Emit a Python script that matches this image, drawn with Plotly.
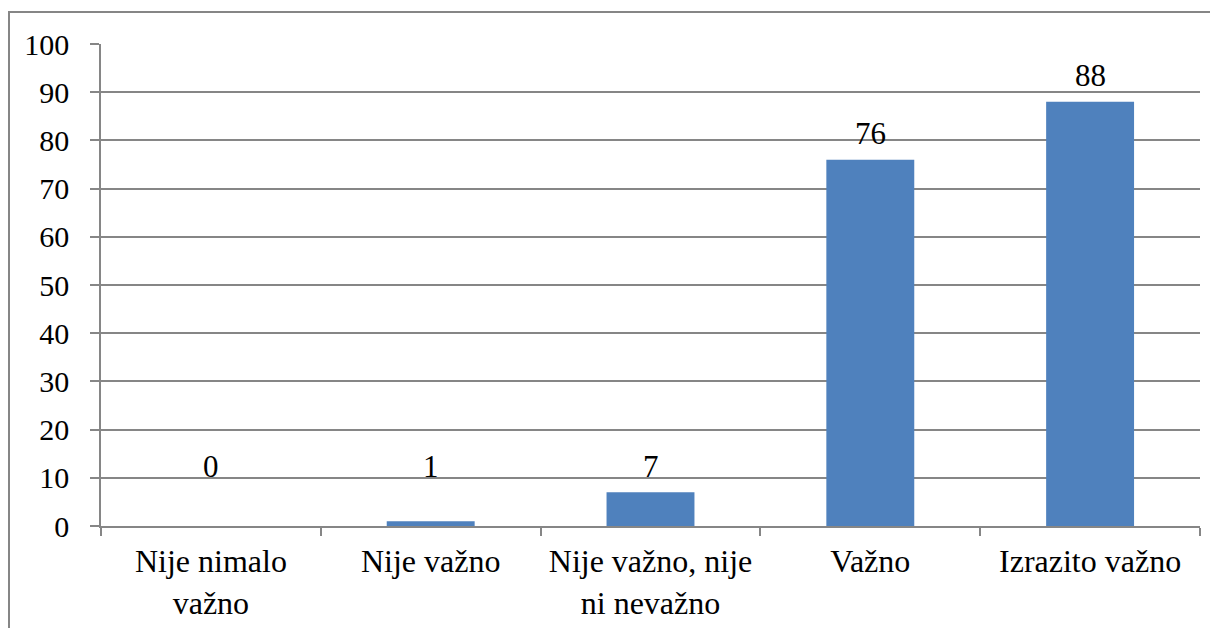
import plotly.graph_objects as go

categories = ["Nije nimalo<br>važno", "Nije važno", "Nije važno, nije<br>ni nevažno", "Važno", "Izrazito važno"]
values = [0, 1, 7, 76, 88]
y_ticks = [0, 10, 20, 30, 40, 50, 60, 70, 80, 90, 100]

# the page body adds an 8px margin, so figure coords = screen coords - 8
W, H = 1218, 628
L, R, T, B = 93, 26, 36, 110
pw, ph = W - L - R, H - T - B

BAR = "#4F81BD"
GRID = "#868686"
FONT = "Liberation Serif, Times New Roman, serif"

fig = go.Figure(go.Bar(
    x=categories, y=values, marker=dict(color=BAR, line=dict(width=0)),
    width=0.4, hoverinfo="skip",
))

for c, v in zip(categories, values):
    fig.add_annotation(x=c, y=max(v, 7), text=str(v), showarrow=False,
                       yanchor="middle", yshift=26,
                       font=dict(family=FONT, size=31, color="black"))

fig.update_layout(
    width=W, height=H,
    margin=dict(l=L, r=R, t=T, b=B, autoexpand=False),
    paper_bgcolor="white", plot_bgcolor="white",
    showlegend=False,
    xaxis=dict(
        type="category", tickson="boundaries", ticks="outside", ticklen=8,
        tickcolor=GRID, tickwidth=1.5, showline=True, linecolor=GRID, linewidth=1.5,
        showgrid=False, tickfont=dict(family=FONT, size=32, color="black"),
        range=[-0.5, 4.5], automargin=False, ticklabelstandoff=6,
    ),
    yaxis=dict(
        range=[0, 100], tickvals=y_ticks, ticks="outside", ticklen=9,
        tickcolor=GRID, tickwidth=1.5, showline=True, linecolor=GRID, linewidth=1.5,
        showgrid=True, gridcolor=GRID, gridwidth=1.5, zeroline=False,
        tickfont=dict(family=FONT, size=30, color="black"), automargin=False,
        ticklabelstandoff=15,
    ),
)

# outer chart border (extends past the right/bottom edges as in the reference)
x0 = (1 - L) / pw
y1 = 1 + (T - 4) / ph
fig.add_shape(type="rect", xref="paper", yref="paper", x0=x0, x1=1.2, y0=-0.5, y1=y1,
              line=dict(color=GRID, width=2), fillcolor="rgba(0,0,0,0)", layer="below")

fig.write_html("out.html")
